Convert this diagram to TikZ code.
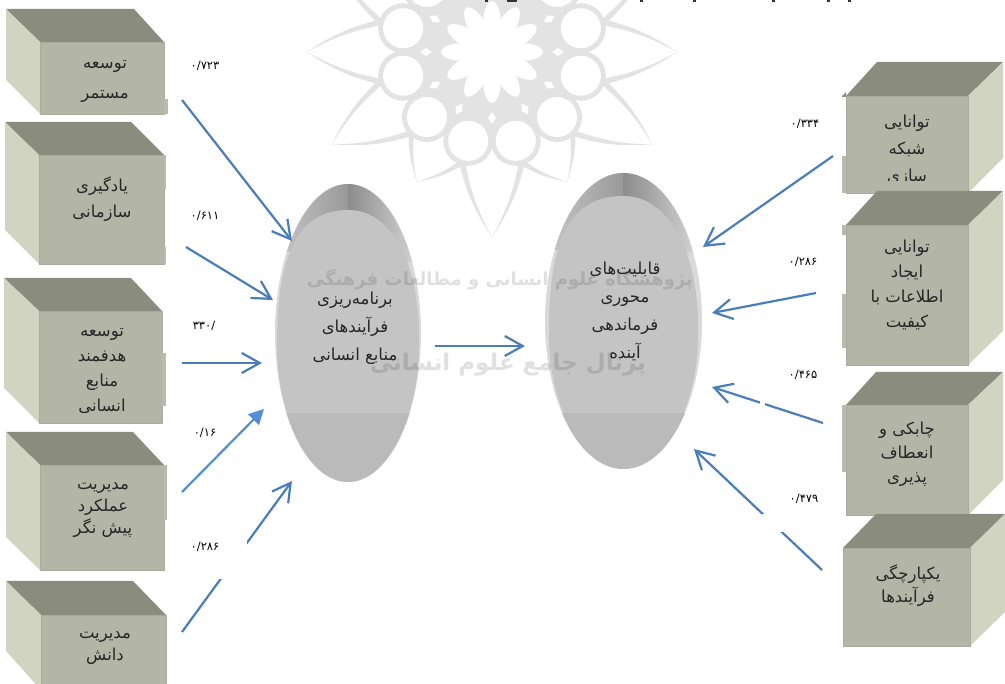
\documentclass[tikz,border=0pt]{standalone}
\usepackage{fontspec}
\usetikzlibrary{shapes.geometric,arrows.meta}
\TeXXeTstate=1
\newfontfamily\arabicfont[Script=Arabic]{DejaVu Sans}
\newcommand{\rl}[1]{\beginR #1\endR}
\definecolor{boxtop}{HTML}{8A8C7E}
\definecolor{boxfront}{HTML}{B3B6A6}
\definecolor{boxside}{HTML}{D0D4C0}
\definecolor{boxedge}{HTML}{A9AC9C}
\definecolor{arrowblue}{HTML}{4A7EBB}
\definecolor{arrowlight}{HTML}{558ED5}
\definecolor{wm}{HTML}{DDDDDD}
\tikzset{
  x=1pt,y=-1pt,
  facefront/.style={rectangle,inner sep=0pt,fill=boxfront,draw=boxedge,line width=0.8pt},
  boxtext/.style={font=\arabicfont\fontsize{16.5}{#1}\selectfont,align=center,inner sep=0pt,text=black!85},
  val/.style={font=\arabicfont\fontsize{11.5}{13}\selectfont,inner sep=0pt},
  link/.style={draw=arrowblue,line width=2.2pt,-{Straight Barb[length=18pt,width=20pt]}},
  linkfill/.style={draw=arrowlight,line width=2.2pt,-{Triangle[length=15pt,width=15pt]}},
  oval/.style={ellipse,inner sep=0pt,fill=#1},
  wmtext/.style={font=\arabicfont\bfseries\fontsize{#1}{32}\selectfont,text=black,inner sep=0pt,opacity=.12},
}
\newcommand{\cubeL}[9]{% name, backL, backR, topY, frontL, frontR, frontT, frontB, sideB
  \fill[boxtop] (#2,#4) -- (#3,#4) -- (#6,#7) -- (#5,#7) -- cycle;
  \fill[boxside] (#2,#4) -- (#5,#7) -- (#5,#8) -- (#2,#9) -- cycle;
  \node[facefront,minimum width=#6pt-#5pt,minimum height=#8pt-#7pt] (#1) at ({(#5+#6)/2},{(#7+#8)/2}) {};
}
\newcommand{\cubeR}[9]{% name, backL, backR, topY, frontL, frontR, frontT, frontB, sideB
  \fill[boxtop] (#2,#4) -- (#3,#4) -- (#6,#7) -- (#5,#7) -- cycle;
  \fill[boxside] (#3,#4) -- (#6,#7) -- (#6,#8) -- (#3,#9) -- cycle;
  \node[facefront,minimum width=#6pt-#5pt,minimum height=#8pt-#7pt] (#1) at ({(#5+#6)/2},{(#7+#8)/2}) {};
}
\newcommand{\tabbit}[4]{\fill[boxfront!92!white] (#1,#2) rectangle (#3,#4);}
\begin{document}
\begin{tikzpicture}
\useasboundingbox (0,0) rectangle (1005,684);
\fill[white] (0,0) rectangle (1005,684);

% ---- left cubes
\cubeL{b1}{6}{134}{9}{40}{164}{42}{114}{80}
\tabbit{164}{99}{168}{114}
\cubeL{b2}{5}{131}{122}{39}{164}{155}{264}{230}
\tabbit{164}{155}{166}{189}
\tabbit{164}{247}{166}{264}
\cubeL{b3}{4}{131}{278}{39}{162}{311}{423}{388}
\tabbit{162}{353}{166}{406}
\cubeL{b4}{6}{133}{432}{40}{164}{465}{570}{537}
\tabbit{164}{465}{167}{520}
\cubeL{b5}{6}{133}{581}{41}{166}{615}{690}{651}

% ---- right cubes
\cubeR{r1}{877}{1003}{62}{846}{968}{96}{193}{158}
\tabbit{842}{156}{846}{193}
\fill[boxtop] (842,96) -- (846,92) -- (846,97) -- (842,97) -- cycle;
\cubeR{r2}{877}{1003}{191}{846}{968}{225}{365}{331}
\tabbit{842}{294}{846}{348}
\tabbit{842}{225}{846}{235}
\cubeR{r3}{876}{1003}{372}{846}{968}{405}{515}{480}
\tabbit{842}{405}{846}{472}
\cubeR{r4}{876}{1005}{514}{843}{970}{548}{646}{612}

% ---- ovals
\node[oval=black!15,minimum width=146pt,minimum height=298pt] (e1) at (348,333) {};
\begin{scope}
  \clip (348,333) ellipse [x radius=73,y radius=149];
  \shade[left color=black!22,right color=black!40] (275,184) rectangle (348,252);
  \shade[left color=black!45,right color=black!15] (348,184) rectangle (421,262);
  \path[fill=black!23] (348,210) .. controls (395,210) and (421,270) .. (419,345)
     .. controls (419,420) and (385,480) .. (348,480)
     .. controls (311,480) and (277,420) .. (277,345)
     .. controls (277,270) and (290,210) .. (348,210) -- cycle;
  \fill[black!27] (279,413) rectangle (417,482);
\end{scope}
\node[oval=black!15,minimum width=157pt,minimum height=296pt] (e2) at (623.5,321) {};
\begin{scope}
  \clip (623.5,321) ellipse [x radius=78.5,y radius=148];
  \shade[left color=black!22,right color=black!40] (545,173) rectangle (623.5,250);
  \shade[left color=black!45,right color=black!15] (623.5,173) rectangle (702,252);
  \path[fill=black!23] (623.5,196) .. controls (670,196) and (700,255) .. (698,335)
     .. controls (698,410) and (663,467) .. (623.5,467)
     .. controls (584,467) and (549,410) .. (549,335)
     .. controls (549,255) and (561,196) .. (623.5,196) -- cycle;
  \fill[black!27] (549,413) rectangle (698,469);
\end{scope}

% ---- watermark rosette
\begin{scope}[opacity=.8,transparency group]
  \foreach \a/\r in {0/185,30/185,60/150,90/185,120/150,150/185,180/185,210/185,240/150,270/185,300/150,330/185}{
    \pgfmathsetmacro{\tx}{492+\r*cos(\a)}
    \pgfmathsetmacro{\ty}{52+\r*sin(\a)}
    \fill[wm] (\tx,\ty) to[bend left=10] ({492+114*cos(\a+17)},{52+114*sin(\a+17)}) -- ({492+112*cos(\a+14)},{52+112*sin(\a+14)}) to[bend right=9] (\tx,\ty);
    \fill[wm] (\tx,\ty) to[bend right=10] ({492+114*cos(\a-17)},{52+114*sin(\a-17)}) -- ({492+112*cos(\a-14)},{52+112*sin(\a-14)}) to[bend left=9] (\tx,\ty);
  }
  \fill[wm] (492,52) circle [radius=80];
  \foreach \a in {15,45,...,345}{
    \fill[wm] ({492+92*cos(\a)},{52+92*sin(\a)}) circle [radius=25];
  }
  \foreach \a in {15,45,...,345}{
    \fill[white] ({492+92*cos(\a)},{52+92*sin(\a)}) circle [radius=20];
  }
  \foreach \a in {0,30,...,330}{
    \fill[white,rotate around={\a:(492,52)}] (492+28,52) ellipse [x radius=23,y radius=9];
    \fill[white,rotate around={\a:(492,52)}] (492+60,52) -- (492+66,52-4) -- (492+72,52) -- (492+66,52+4) -- cycle;
  }
  \fill[white] (492,52) circle [radius=30];
\end{scope}
\node[wmtext=18] (wmone) at (500,280) {\rl{پژوهشگاه علوم انسانی و مطالعات فرهنگی}};
\node[wmtext=23] (wmtwo) at (508,365) {\rl{پرتال جامع علوم انسانی}};

% ---- cut-off edge of the line above the picture
\foreach \tickx/\tickw in {485/3,507/10,640/3,693/3,772/3,827/3,848/3}{
  \fill[black!80] (\tickx,0) rectangle ({\tickx+\tickw},1.6);
}

% ---- connectors
\coordinate (a1) at (182,100); \coordinate (t1) at (292,241);
\coordinate (a2) at (186,247); \coordinate (t2) at (273,300);
\coordinate (a3) at (182,363); \coordinate (t3) at (262,363);
\coordinate (a4) at (182,492); \coordinate (t4) at (264,409);
\coordinate (a5) at (182,632); \coordinate (t5) at (292,481);
\coordinate (am) at (435,346); \coordinate (tm) at (525,346);
\coordinate (c1) at (833,156); \coordinate (u1) at (703,247);
\coordinate (c2) at (816,293); \coordinate (u2) at (712,313);
\coordinate (c3) at (823,423); \coordinate (u3) at (712,387);
\coordinate (c4) at (822,570); \coordinate (u4) at (694,449);
\draw[link] (a1) -- (t1);
\draw[link] (a2) -- (t2);
\draw[link] (a3) -- (t3);
\draw[linkfill] (a4) -- (t4);
\draw[link] (a5) -- (t5);
\draw[link] (am) -- (tm);
\draw[link] (c1) -- (u1);
\draw[link] (c2) -- (u2);
\draw[link] (c3) -- (u3);
\draw[link] (c4) -- (u4);
% label backgrounds that interrupt the connectors
\fill[white] (186,535) rectangle (247,579);
\fill[white] (760,396) rectangle (765,412);
\fill[white] (762,514) rectangle (800,532);

% ---- values
\node[val] (v1) at (205,66) {۰/۷۲۳};
\node[val] (v2) at (205,216) {۰/۶۱۱};
\node[val] (v3) at (204,326) {/۳۳۰};
\node[val] (v4) at (205,433) {۰/۱۶};
\node[val] (v5) at (205,547) {۰/۲۸۶};
\node[val] (v6) at (805,124) {۰/۳۳۴};
\node[val] (v7) at (803,262) {۰/۲۸۶};
\node[val] (v8) at (803,375) {۰/۴۶۵};
\node[val] (v9) at (804,499) {۰/۴۷۹};

% ---- box text
\begin{scope}
  \clip (40,42) rectangle (164,103);
  \node[boxtext=30] (l1) at (105,81) {\rl{توسعه}\\\rl{مستمر}};
\end{scope}
\node[boxtext=26] (l2) at (102,199.5) {\rl{یادگیری}\\\rl{سازمانی}};
\begin{scope}
  \clip (39,311) rectangle (162,413);
  \node[boxtext=25] (l3) at (102,371) {\rl{توسعه}\\\rl{هدفمند}\\\rl{منابع}\\\rl{انسانی}};
\end{scope}
\node[boxtext=22] (l4) at (103,510) {\rl{مدیریت}\\\rl{عملکرد}\\\rl{پیش نگر}};
\node[boxtext=22] (l5) at (105,648) {\rl{مدیریت}\\\rl{دانش}};
\begin{scope}
  \clip (846,96) rectangle (968,181);
  \node[boxtext=27] (l6) at (907,150) {\rl{توانایی}\\\rl{شبکه}\\\rl{سازی}};
\end{scope}
\node[boxtext=25] (l7) at (907,285) {\rl{توانایی}\\\rl{ایجاد}\\\rl{اطلاعات با}\\\rl{کیفیت}};
\node[boxtext=24] (l8) at (907,454) {\rl{چابکی و}\\\rl{انعطاف}\\\rl{پذیری}};
\node[boxtext=23] (l9) at (908,586) {\rl{یکپارچگی}\\\rl{فرآیندها}};
\node[boxtext=28] (l10) at (355,328) {\rl{برنامه‌ریزی}\\\rl{فرآیندهای}\\\rl{منابع انسانی}};
\node[boxtext=28] (l11) at (625,311) {\rl{قابلیت‌های}\\\rl{محوری}\\\rl{فرماندهی}\\\rl{آینده}};
\end{tikzpicture}
\end{document}
